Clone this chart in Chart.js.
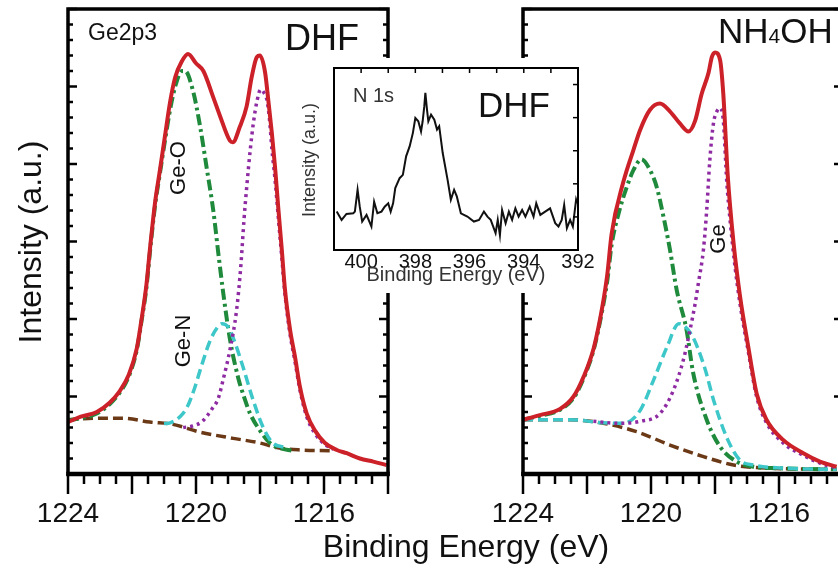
<!DOCTYPE html>
<html>
<head>
<meta charset="utf-8">
<script src="https://cdn.jsdelivr.net/npm/chart.js@4.4.1/dist/chart.umd.min.js"></script>
<style>
  html, body { margin: 0; padding: 0; background: #fff; overflow: hidden; }
  #page { position: relative; width: 838px; height: 572px; overflow: hidden; }
  canvas { position: absolute; }
  #cLeft { left: 0; top: 0; }
  #cRight { left: 440px; top: 0; }
  #cInset { left: 296px; top: 58px; background: #fff; }
</style>
</head>
<body>
<div id="page">
  <canvas id="cLeft" width="838" height="572"></canvas>
  <canvas id="cRight" width="420" height="572"></canvas>
  <canvas id="cInset" width="300" height="235"></canvas>
</div>
<script>
// ---- Ge 2p3, DHF treated (left panel) ----
const dhfTotalE = [1224.0, 1223.6, 1223.1, 1222.7, 1222.4, 1222.1, 1221.85, 1221.7, 1221.55, 1221.44, 1221.28, 1221.12, 1220.97, 1220.81, 1220.65, 1220.45, 1220.25, 1220.0, 1219.77, 1219.46, 1219.25, 1218.94, 1218.85, 1218.63, 1218.42, 1218.26, 1218.1, 1218.0, 1217.84, 1217.74, 1217.63, 1217.53, 1217.43, 1217.32, 1217.22, 1217.06, 1216.91, 1216.75, 1216.54, 1216.28, 1215.97, 1215.6, 1215.29, 1214.88, 1214.46, 1214.04];
const dhfTotalI = [3.35, 3.7, 4.0, 4.6, 5.3, 6.4, 8.1, 10.0, 12.2, 14.5, 17.5, 19.7, 21.8, 24.0, 25.6, 26.6, 27.1, 26.5, 26.0, 24.3, 23.1, 21.5, 21.4, 22.4, 23.7, 25.6, 26.9, 27.0, 25.9, 24.1, 22.0, 19.8, 17.2, 14.5, 11.9, 9.3, 7.6, 5.6, 3.9, 2.8, 2.0, 1.55, 1.34, 1.0, 0.8, 0.58];

const dhfGeOE = [1224.0, 1223.6, 1223.1, 1222.7, 1222.4, 1222.1, 1221.85, 1221.7, 1221.55, 1221.44, 1221.28, 1221.12, 1220.97, 1220.81, 1220.65, 1220.44, 1220.34, 1220.08, 1219.87, 1219.67, 1219.46, 1219.3, 1219.15, 1218.94, 1218.68, 1218.47, 1218.31, 1218.0, 1217.69, 1217.37, 1217.0];
const dhfGeOI = [3.45, 3.6, 3.9, 4.5, 5.2, 6.3, 8.0, 9.9, 12.0, 14.3, 17.3, 19.5, 21.5, 23.5, 25.0, 26.0, 26.0, 24.6, 22.4, 19.8, 17.0, 14.2, 11.7, 8.7, 6.2, 4.8, 3.9, 2.8, 2.0, 1.66, 1.5];

const dhfGeNE = [1221.0, 1220.81, 1220.5, 1220.28, 1220.05, 1219.87, 1219.56, 1219.35, 1219.19, 1219.0, 1218.84, 1218.53, 1218.22, 1217.9, 1217.6, 1217.16];
const dhfGeNI = [3.25, 3.3, 3.7, 4.3, 5.5, 6.7, 8.6, 9.4, 9.7, 9.5, 8.8, 6.9, 4.8, 3.0, 2.0, 1.7];

const dhfGeE = [1220.4, 1220.1, 1219.8, 1219.5, 1219.3, 1219.15, 1218.94, 1218.73, 1218.6, 1218.5, 1218.42, 1218.3, 1218.21, 1218.1, 1217.98, 1217.88, 1217.78, 1217.7, 1217.63, 1217.53, 1217.43, 1217.32, 1217.22, 1217.06, 1216.91, 1216.75, 1216.54, 1216.28, 1215.97, 1215.7];
const dhfGeI = [3.0, 3.1, 3.4, 4.2, 4.9, 6.1, 8.0, 10.6, 13.4, 16.4, 18.4, 21.0, 22.6, 24.0, 24.8, 24.6, 24.1, 22.8, 21.0, 19.0, 16.6, 14.0, 11.6, 9.0, 7.3, 5.4, 3.7, 2.6, 1.9, 1.6];

const dhfBgE = [1224.0, 1223.1, 1222.28, 1221.44, 1220.72, 1219.87, 1218.84, 1218.0, 1217.47, 1216.75, 1215.81];
const dhfBgI = [3.5, 3.6, 3.6, 3.35, 3.2, 2.7, 2.3, 2.0, 1.7, 1.55, 1.5];

// ---- Ge 2p3, NH4OH treated (right panel) ----
const nhTotalE = [1224.0, 1223.47, 1222.84, 1222.42, 1222.1, 1221.78, 1221.52, 1221.37, 1221.23, 1220.87, 1220.55, 1220.34, 1220.03, 1219.72, 1219.41, 1219.09, 1218.83, 1218.62, 1218.42, 1218.2, 1218.1, 1218.0, 1217.84, 1217.74, 1217.6, 1217.42, 1217.22, 1216.96, 1216.7, 1216.39, 1215.87, 1215.24, 1214.72, 1214.2];
const nhTotalI = [3.5, 3.8, 4.2, 5.0, 6.3, 8.2, 10.8, 12.8, 15.5, 18.8, 20.9, 22.2, 23.5, 23.9, 23.4, 22.6, 22.1, 22.8, 24.5, 25.9, 26.9, 27.2, 26.7, 24.5, 19.2, 14.9, 11.5, 8.2, 5.2, 3.5, 2.2, 1.34, 0.8, 0.47];

const nhGeOE = [1224.0, 1223.47, 1222.84, 1222.42, 1222.1, 1221.78, 1221.52, 1221.37, 1221.23, 1221.0, 1220.76, 1220.55, 1220.3, 1220.03, 1219.82, 1219.61, 1219.41, 1219.2, 1218.89, 1218.68, 1218.26, 1217.84, 1217.32, 1216.8, 1216.0, 1215.0, 1214.2];
const nhGeOI = [3.5, 3.75, 4.15, 4.9, 6.2, 8.1, 10.6, 12.4, 14.8, 16.9, 18.5, 19.6, 20.3, 19.6, 18.5, 16.6, 14.5, 11.9, 9.3, 6.5, 3.5, 1.76, 0.8, 0.47, 0.37, 0.32, 0.3];

const nhGeNE = [1224.0, 1222.53, 1221.49, 1220.87, 1220.34, 1219.92, 1219.5, 1219.13, 1218.71, 1218.33, 1218.02, 1217.6, 1217.22, 1216.8, 1215.76, 1214.2];
const nhGeNI = [3.5, 3.5, 3.3, 3.27, 4.1, 6.06, 8.2, 9.7, 8.9, 6.9, 4.6, 2.2, 0.9, 0.58, 0.37, 0.3];

const nhGeE = [1221.8, 1220.97, 1220.34, 1219.72, 1219.3, 1218.99, 1218.78, 1218.62, 1218.52, 1218.36, 1218.26, 1218.16, 1218.05, 1217.94, 1217.84, 1217.74, 1217.63, 1217.53, 1217.37, 1217.22, 1216.96, 1216.7, 1216.39, 1215.87, 1215.24, 1214.72, 1214.2];
const nhGeI = [3.4, 3.27, 3.4, 3.9, 5.4, 7.35, 9.3, 11.0, 12.3, 14.5, 17.0, 20.3, 22.6, 23.4, 23.6, 22.8, 18.8, 16.4, 13.3, 11.0, 7.9, 5.0, 3.3, 2.0, 1.2, 0.7, 0.4];

const nhBgE = [1224.0, 1222.53, 1221.49, 1220.45, 1219.41, 1218.36, 1217.42, 1216.28, 1214.2];
const nhBgI = [3.5, 3.5, 3.27, 2.73, 1.87, 1.12, 0.58, 0.37, 0.3];

// ---- N 1s inset (DHF) ----
const n1sE = [400.9, 400.72, 400.54, 400.29, 400.23, 400.13, 400.05, 399.96, 399.8, 399.62, 399.52, 399.4, 399.25, 399.13, 399.0, 398.91, 398.82, 398.74, 398.58, 398.46, 398.34, 398.21, 398.09, 398.0, 397.89, 397.79, 397.73, 397.67, 397.63, 397.57, 397.52, 397.42, 397.3, 397.2, 397.12, 396.99, 396.81, 396.69, 396.57, 396.47, 396.32, 396.08, 395.84, 395.65, 395.47, 395.34, 395.22, 395.04, 394.96, 394.88, 394.8, 394.67, 394.55, 394.43, 394.31, 394.19, 394.06, 393.94, 393.78, 393.64, 393.54, 393.39, 393.21, 393.03, 392.84, 392.72, 392.6, 392.51, 392.41, 392.29, 392.19, 392.07, 392.03];
const n1sI = [1.16, 0.91, 1.09, 1.11, 1.16, 1.82, 1.31, 0.86, 1.06, 0.71, 1.46, 1.11, 1.16, 1.31, 1.41, 1.16, 1.41, 1.87, 2.17, 2.27, 2.83, 3.13, 3.54, 3.99, 3.89, 3.58, 3.89, 4.34, 4.75, 4.24, 3.89, 4.09, 3.94, 3.64, 3.74, 2.93, 2.12, 1.52, 1.82, 1.62, 1.11, 1.01, 0.86, 0.91, 1.16, 1.01, 0.91, 0.51, 0.91, 0.45, 1.21, 0.81, 1.16, 0.91, 1.26, 1.01, 1.21, 1.01, 1.31, 1.01, 1.41, 1.06, 1.16, 1.26, 0.81, 0.71, 0.91, 1.36, 0.66, 0.91, 0.71, 1.52, 1.41];

// tick labels
const geTickLabels = [1224, 1220, 1216];
const n1sTickLabels = [400, 398, 396, 394, 392];

const FONT = "'Liberation Sans', Arial, sans-serif";
const RED = '#cc2129', GREEN = '#1f8a3c', PURPLE = '#8e2ba2', CYAN = '#3ec7c9', BROWN = '#6b3916';

function pts(es, is) {
  return es.map((e, i) => ({ x: e, y: is[i] }));
}

// box, ticks and tick labels drawn from the chart's scales
const framePlugin = {
  id: 'frame',
  afterDatasetsDraw(chart, args, o) {
    const { ctx, chartArea: a, scales: { x, y } } = chart;
    const seg = (x1, y1, x2, y2) => { ctx.beginPath(); ctx.moveTo(x1, y1); ctx.lineTo(x2, y2); ctx.stroke(); };
    const isMajor = (v, m) => Math.abs(v / m - Math.round(v / m)) < 1e-6;
    ctx.save();
    ctx.strokeStyle = '#000';
    ctx.lineWidth = o.tickWidth;
    const nx = Math.round((x.max - x.min) / o.xStep);
    for (let i = 0; i <= nx; i++) {
      const v = x.min + i * o.xStep;
      const px = x.getPixelForValue(v);
      const len = isMajor(v, o.xMajor) ? o.xMajorLen : o.xMinorLen;
      if (o.xBottom) seg(px, a.bottom, px, a.bottom + len);
      if (o.xTop) seg(px, a.top, px, a.top + len);
    }
    const ny = Math.round((y.max - y.min) / o.yStep);
    for (let i = 0; i <= ny; i++) {
      const v = y.min + i * o.yStep;
      const py = y.getPixelForValue(v);
      const len = isMajor(v, o.yMajor) ? o.yMajorLen : o.yMinorLen;
      if (o.yLeft) seg(a.left, py, a.left + len, py);
      if (o.yRight) seg(a.right, py, a.right - len, py);
    }
    ctx.lineWidth = o.lineWidth;
    ctx.strokeRect(a.left, a.top, a.right - a.left, a.bottom - a.top);
    ctx.lineWidth = o.bottomWidth;
    seg(a.left - o.lineWidth / 2, a.bottom, a.right + o.lineWidth / 2, a.bottom);

    ctx.fillStyle = '#111';
    ctx.font = o.labelFont;
    ctx.textAlign = 'center';
    ctx.textBaseline = 'alphabetic';
    o.xLabels.forEach(v => ctx.fillText(String(v), x.getPixelForValue(v), a.bottom + o.labelOffset));
    ctx.restore();
  }
};

const notesPlugin = {
  id: 'notes',
  afterDraw(chart, args, o) {
    const ctx = chart.ctx;
    (o.items || []).forEach(n => {
      ctx.save();
      ctx.fillStyle = n.color || '#111';
      ctx.font = n.font;
      ctx.textAlign = n.align || 'left';
      ctx.textBaseline = n.baseline || 'alphabetic';
      ctx.translate(n.x, n.y);
      if (n.rot) ctx.rotate(n.rot);
      if (n.parts) {
        let dx = 0;
        n.parts.forEach(p => {
          ctx.font = p.font;
          ctx.fillText(p.t, dx, 0);
          dx += ctx.measureText(p.t).width;
        });
      } else {
        ctx.fillText(n.t, 0, 0);
      }
      ctx.restore();
    });
  }
};

function lineSet(label, data, color, width, dash, order) {
  return {
    label: label,
    data: data,
    borderColor: color,
    borderWidth: width,
    borderDash: dash,
    borderCapStyle: 'butt',
    pointRadius: 0,
    fill: false,
    cubicInterpolationMode: 'monotone',
    order: order
  };
}

function panelOptions(padding, notes) {
  return {
    responsive: false,
    animation: false,
    events: [],
    layout: { padding: padding },
    scales: {
      x: { type: 'linear', min: 1214, max: 1224, reverse: true, display: false },
      y: { type: 'linear', min: 0, max: 30, display: false }
    },
    plugins: {
      legend: { display: false },
      tooltip: { enabled: false },
      frame: {
        tickWidth: 2.5, lineWidth: 3.5, bottomWidth: 4.5,
        xStep: 0.5, xMajor: 2, xMinorLen: 10, xMajorLen: 20, xBottom: true, xTop: false,
        yStep: 1, yMajor: 5, yMinorLen: 5, yMajorLen: 9, yLeft: true, yRight: true,
        xLabels: geTickLabels, labelFont: '28px ' + FONT, labelOffset: 48
      },
      notes: { items: notes }
    }
  };
}

const ROT = -Math.PI / 2;

new Chart(document.getElementById('cLeft'), {
  type: 'line',
  data: {
    datasets: [
      lineSet('Total', pts(dhfTotalE, dhfTotalI), RED, 4, [], 0),
      lineSet('Ge', pts(dhfGeE, dhfGeI), PURPLE, 3.5, [3, 4], 1),
      lineSet('Ge-N', pts(dhfGeNE, dhfGeNI), CYAN, 3.5, [10, 5], 2),
      lineSet('Ge-O', pts(dhfGeOE, dhfGeOI), GREEN, 4, [11, 4, 3, 4], 3),
      lineSet('Background', pts(dhfBgE, dhfBgI), BROWN, 3.5, [10, 5], 4)
    ]
  },
  options: panelOptions({ left: 68, top: 9, right: 450, bottom: 98 }, [
    { t: 'Ge2p3', x: 88, y: 40, font: '23px ' + FONT },
    { t: 'DHF', x: 285, y: 50, font: '36px ' + FONT },
    { t: 'Ge-O', x: 179, y: 168, rot: ROT, align: 'center', baseline: 'middle', font: '22px ' + FONT },
    { t: 'Ge-N', x: 184, y: 341, rot: ROT, align: 'center', baseline: 'middle', font: '22px ' + FONT },
    { t: 'Intensity (a.u.)', x: 32, y: 242, rot: ROT, align: 'center', baseline: 'middle', font: '32px ' + FONT },
    { t: 'Binding Energy (eV)', x: 466, y: 557, align: 'center', font: '32px ' + FONT }
  ]),
  plugins: [framePlugin, notesPlugin]
});

new Chart(document.getElementById('cRight'), {
  type: 'line',
  data: {
    datasets: [
      lineSet('Total', pts(nhTotalE, nhTotalI), RED, 4, [], 0),
      lineSet('Ge', pts(nhGeE, nhGeI), PURPLE, 3.5, [3, 4], 1),
      lineSet('Ge-N', pts(nhGeNE, nhGeNI), CYAN, 3.5, [10, 5], 2),
      lineSet('Ge-O', pts(nhGeOE, nhGeOI), GREEN, 4, [11, 4, 3, 4], 3),
      lineSet('Background', pts(nhBgE, nhBgI), BROWN, 3.5, [10, 5], 4)
    ]
  },
  options: panelOptions({ left: 83, top: 9, right: 17, bottom: 98 }, [
    { x: 278, y: 43, parts: [
      { t: 'NH', font: '35px ' + FONT },
      { t: '4', font: '21px ' + FONT },
      { t: 'OH', font: '35px ' + FONT }
    ] },
    { t: 'Ge', x: 279, y: 239, rot: ROT, align: 'center', baseline: 'middle', font: '22px ' + FONT }
  ]),
  plugins: [framePlugin, notesPlugin]
});

new Chart(document.getElementById('cInset'), {
  type: 'line',
  data: {
    datasets: [{
      label: 'N 1s',
      data: pts(n1sE, n1sI),
      borderColor: '#111',
      borderWidth: 2,
      pointRadius: 0,
      tension: 0,
      fill: false
    }]
  },
  options: {
    responsive: false,
    animation: false,
    events: [],
    layout: { padding: { left: 38, top: 10, right: 18, bottom: 43 } },
    scales: {
      x: { type: 'linear', min: 392, max: 401, reverse: true, display: false },
      y: { type: 'linear', min: 0, max: 5.5, display: false }
    },
    plugins: {
      legend: { display: false },
      tooltip: { enabled: false },
      frame: {
        tickWidth: 1.5, lineWidth: 2, bottomWidth: 2,
        xStep: 1, xMajor: 1, xMinorLen: 5, xMajorLen: 5, xBottom: false, xTop: true,
        yStep: 1, yMajor: 1, yMinorLen: 5, yMajorLen: 5, yLeft: false, yRight: true,
        xLabels: n1sTickLabels, labelFont: '20px ' + FONT, labelOffset: 18
      },
      notes: { items: [
        { t: 'N 1s', x: 57, y: 44, font: '20px ' + FONT, color: '#333' },
        { t: 'DHF', x: 182, y: 59, font: '35px ' + FONT },
        { t: 'Intensity (a.u.)', x: 14, y: 102, rot: ROT, align: 'center', baseline: 'middle', font: '18px ' + FONT, color: '#333' },
        { t: 'Binding Energy (eV)', x: 160, y: 223, align: 'center', font: '20px ' + FONT, color: '#333' }
      ] }
    }
  },
  plugins: [framePlugin, notesPlugin]
});
</script>
</body>
</html>
